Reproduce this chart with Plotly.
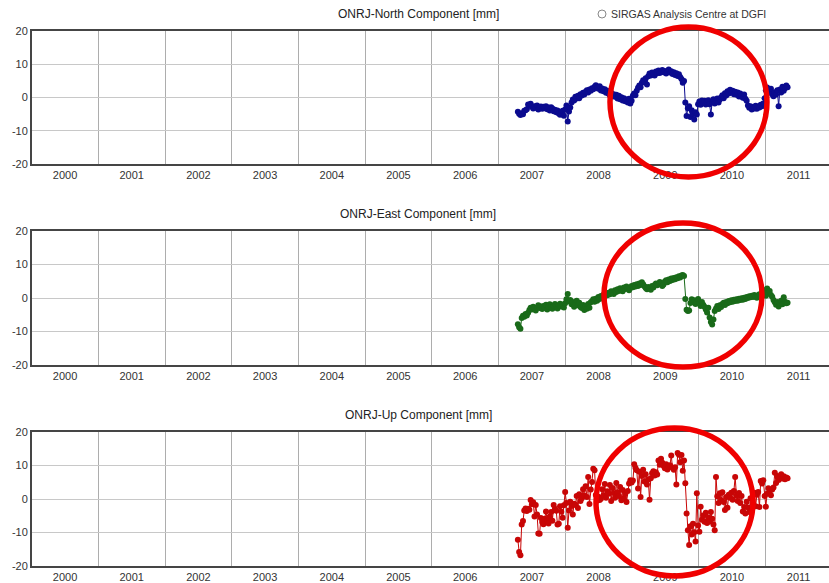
import numpy as np
import plotly.graph_objects as go

# Weekly solutions of station ONRJ (decimal years), residual positions in mm
t0 = 2006.79
n_weeks = 212
epochs = t0 + np.arange(n_weeks) * 7 / 365.25

north = [
    -4.3, -4.9, -5.3, -4.7, -5.0, -4.0, -3.8, -3.5, -2.1, -2.5,
    -1.9, -2.8, -3.3, -2.6, -3.1, -2.4, -3.6, -2.9, -2.7, -3.4,
    -2.8, -3.2, -2.6, -3.5, -3.0, -3.9, -2.9, -3.3, -4.1, -3.7,
    -4.4, -3.9, -4.8, -5.2, -4.5, -4.0, -5.5, -3.6, -2.4, -7.2,
    -4.2, -3.0, -1.5, -0.6, -0.9, 0.2, -0.3, 0.5, -0.2, 1.0,
    0.6, 1.4, 0.9, 1.7, 2.2, 1.5, 2.4, 2.0, 2.8, 2.5,
    3.2, 3.7, 3.0, 2.6, 3.4, 2.1, 2.7, 1.9, 2.5, 1.4,
    2.0, 1.1, 0.7, 1.4, 0.4, 1.0, 0.2, 0.8, -0.3, 0.5,
    -0.5, 0.1, -0.9, -0.2, -1.1, -0.6, -1.5, -0.4, -1.8, -1.0,
    0.6, 1.2, 0.7, 2.0, 2.9, 3.6, 3.1, 4.4, 5.2, 4.6,
    5.8, 3.9, 6.4, 7.2, 6.6, 7.5, 7.0, 6.6, 7.8, 7.3,
    8.1, 7.4, 7.9, 8.3, 7.6, 8.0, 7.2, 7.7, 8.4, 7.5,
    7.9, 7.1, 7.6, 6.8, 7.3, 6.5, 7.0, 6.2, 5.6, 4.4,
    5.0, -1.5, -5.6, -3.2, -2.6, -5.9, -3.8, -4.9, -6.6, -4.4,
    -5.1, -2.0, -1.2, -2.2, -0.9, -1.7, -1.0, -2.1, -1.4, -0.8,
    -2.0, -5.1, -1.3, -0.5, -1.8, -0.9, -0.3, -1.5, -0.6, 0.1,
    0.7, -0.2, 1.3, 0.6, 1.9, 1.2, 2.3, 1.6, 2.0, 1.0,
    1.7, 0.8, 1.5, 0.3, 1.2, 0.5, -0.1, 0.9, -0.4, -1.0,
    -2.4, -3.1, -2.6, -3.6, -2.9, -3.3, -2.5, -3.4, -2.7, -3.0,
    -2.2, -2.6, -1.8, -0.2, 2.2, 3.0, 2.4, 1.5, 2.6, 1.0,
    0.4, 1.6, 0.9, 2.2, -2.6, 2.4, 1.5, 3.2, 2.0, 2.8, 3.6, 3.1,
]

east = [
    -7.8, -8.7, -9.2, -6.0, -5.3, -5.6, -4.8, -5.2, -4.4, -3.6,
    -2.9, -3.4, -2.6, -3.1, -3.7, -2.8, -2.2, -3.0, -2.5, -3.3,
    -2.4, -2.9, -2.0, -3.4, -2.6, -1.9, -2.7, -3.2, -2.3, -1.8,
    -2.6, -3.1, -2.2, -1.7, -2.5, -2.0, -2.8, -1.6, -0.4, 1.2,
    -1.0, -0.6, -1.9, -1.2, -2.6, -1.5, -0.8, -2.2, -1.4, -2.7,
    -3.0, -2.1, -3.6, -2.4, -3.2, -1.8, -2.9, -1.3, -1.0, -0.4,
    -1.1, -0.2, -0.8, 0.3, -0.3, 0.6, 0.1, 1.0, 0.5, 1.3,
    0.8, 1.6, 1.1, 2.0, 1.5, 1.2, 2.3, 1.8, 2.6, 2.1,
    2.9, 2.4, 2.0, 3.1, 2.7, 3.4, 2.8, 2.3, 3.0, 3.6,
    3.2, 3.9, 3.4, 4.1, 3.6, 4.3, 3.9, 4.7, 4.1, 3.5,
    3.0, 2.6, 3.3, 2.9, 2.5, 3.6, 3.1, 3.9, 4.3, 3.8,
    4.1, 4.8, 4.4, 3.6, 4.0, 4.9, 5.3, 4.7, 5.5, 5.1,
    5.8, 5.4, 6.0, 5.6, 6.2, 5.9, 6.5, 6.1, 6.7, 6.9,
    6.6, -0.3, -3.5, -3.9, -3.7, -1.5, -0.4, -1.2, -0.7, -1.8,
    -1.1, -0.3, -1.6, -2.4, -1.2, -2.0, -2.6, -3.4, -4.3, -2.9,
    -5.8, -7.2, -7.9, -6.4, -3.9, -3.1, -2.4, -3.3, -2.2, -2.7,
    -1.8, -1.4, -2.1, -1.2, -1.6, -0.9, -1.3, -0.7, -1.1, -0.5,
    -0.9, -0.4, -0.8, -0.2, -0.6, -0.1, -0.5, 0.1, -0.3, 0.3,
    0.0, 0.5, 0.2, 0.7, 0.3, 0.9, 0.4, 0.1, 0.8, 1.1,
    0.6, 1.5, 2.4, 1.2, 0.7, 2.8, 1.6, 2.1, 0.9, 0.4,
    -0.6, -1.3, -2.0, -1.2, -2.5, -1.7, -0.8, -1.9, 0.2, -1.1, -1.6, -1.4,
]

up = [
    -12.2, -15.8, -16.8, -7.6, -6.6, -3.4, -2.8, -3.6, -2.9, -3.2,
    -0.3, -1.6, -1.0, -5.2, -1.8, -4.6, -10.3, -10.4, -5.7, -6.9,
    -7.5, -5.9, -3.7, -6.6, -7.3, -5.2, -3.9, -6.5, -1.8, -2.9,
    -3.5, -7.6, -7.4, -2.2, -3.8, -5.6, -1.9, 2.1, -1.2, -8.6,
    -3.4, -0.8, -2.1, -4.6, -1.4, -1.8, 0.9, -2.7, 1.4, -0.6,
    0.2, 2.9, 1.0, 3.8, 0.6, 6.6, -1.5, 2.8, 5.1, 9.0,
    8.6, 1.2, -0.5, 0.7, -0.3, 0.1, 2.9, 1.1, 4.5, 0.4,
    2.3, 1.6, 4.2, -0.6, 3.3, 1.8, 0.4, 4.8, 2.0, 0.9,
    3.6, -0.4, 2.7, 0.3, 1.5, -0.9, 2.4, 4.6, 5.6, 4.9,
    5.5, 10.4, 9.3, 8.6, 3.1, 8.1, 0.6, 6.9, 8.7, 5.2,
    7.4, 4.3, 5.8, -0.2, 6.2, 7.7, 8.3, 7.0, 8.0, 7.3,
    11.5, 10.2, 12.0, 10.8, 9.9, 9.2, 10.4, 8.8, 9.7, 10.1,
    13.0, 9.3, 8.7, 9.5, 4.3, 13.7, 13.2, 11.0, 13.1, 8.4,
    11.5, 4.7, -4.3, -9.3, -13.7, -8.1, -10.6, -7.4, -9.9, -12.7,
    1.7, -7.9, -9.8, -2.3, -6.2, -4.9, -6.8, -4.1, -7.2, -5.5,
    -6.7, -3.9, -5.9, -7.6, -9.3, 6.6, 0.8, -1.2, 1.7, -0.4,
    2.0, -0.9, -3.3, 0.6, -2.6, 1.3, 0.4, 1.9, -0.2, 2.4,
    6.6, 1.0, -0.6, 1.8, -1.2, 0.9, -3.7, -2.4, -4.3, -0.8,
    -2.5, -3.9, 0.2, -3.1, -1.6, 1.9, -2.2, 1.3, 2.1, -2.4,
    5.4, 4.6, 5.6, 0.9, -2.3, 1.6, 3.2, 2.4, 1.1, 2.8,
    3.4, 7.8, 4.8, 6.9, 5.7, 6.5, 7.4, 6.1, 6.8, 5.9, 6.4, 6.2,
]

years = list(range(2000, 2012))
y_ticks = [20, 10, 0, -10, -20]
y_labels = ["20", "10", "0", "-10", "-20"]

panels = [
    ("ONRJ-North Component [mm]", north, "#0b0b8f"),
    ("ONRJ-East Component [mm]", east, "#196a19"),
    ("ONRJ-Up Component [mm]", up, "#c80606"),
]

W, H = 829, 583
# plot frames in pixels: (top, bottom)
frames = [(31, 164), (231, 365), (432, 566)]
left_px = 32

FONT = "Liberation Sans, Arial, sans-serif"

fig = go.Figure()
layout = dict(
    width=W, height=H,
    margin=dict(l=0, r=0, t=0, b=0),
    paper_bgcolor="white", plot_bgcolor="white",
    showlegend=False,
    font=dict(family=FONT, size=11, color="#333333"),
)

annotations = []
shapes = []

for k, (title, vals, color) in enumerate(panels):
    idx = "" if k == 0 else str(k + 1)
    top, bot = frames[k]
    fig.add_trace(go.Scatter(
        x=epochs, y=vals, mode="lines+markers",
        xaxis="x" + idx, yaxis="y" + idx,
        line=dict(color=color, width=1),
        marker=dict(color=color, size=6, line=dict(width=0)),
    ))
    layout["xaxis" + idx] = dict(
        domain=[left_px / W, 1.0],
        anchor="y" + idx,
        range=[1999.505, 2011.455],
        tickmode="array", tickvals=years, ticktext=[str(y) for y in years],
        ticks="", showgrid=False, zeroline=False,
        showline=True, mirror=True, linecolor="#454545", linewidth=2,
        tickfont=dict(size=11, color="#333333"),
        minor=dict(tickvals=[y + 0.5 for y in years], showgrid=True,
                   gridcolor="#adadad", gridwidth=1, ticks=""),
        automargin=False,
    )
    layout["yaxis" + idx] = dict(
        domain=[1 - bot / H, 1 - top / H],
        anchor="x" + idx,
        range=[-20, 20],
        tickmode="array", tickvals=y_ticks, ticktext=y_labels,
        ticks="", showgrid=True, gridcolor="#c8c8c8", gridwidth=1,
        zeroline=False,
        showline=True, mirror=False, linecolor="#454545", linewidth=2,
        tickfont=dict(size=11, color="#333333"),
        automargin=False,
    )
    annotations.append(dict(
        text=title, x=418 / W, y=1 - (top - 17) / H,
        xref="paper", yref="paper", xanchor="center", yanchor="middle",
        showarrow=False, font=dict(family=FONT, size=12, color="#222222"),
    ))

# legend entry of the analysis centre
annotations.append(dict(
    text="SIRGAS Analysis Centre at DGFI", x=609 / W, y=1 - 14 / H,
    xref="paper", yref="paper", xanchor="left", yanchor="middle",
    showarrow=False, font=dict(family=FONT, size=10.5, color="#333333"),
))
shapes.append(dict(
    type="circle", xref="paper", yref="paper",
    x0=598 / W, x1=606 / W, y0=1 - 18 / H, y1=1 - 10 / H,
    line=dict(color="#888888", width=1), fillcolor="white",
))

# red highlight rings around the 2009 offset
rings = [(610, 767, 27, 177), (604, 762, 223, 367), (596, 753, 428, 576)]
for x0, x1, y0, y1 in rings:
    shapes.append(dict(
        type="circle", xref="paper", yref="paper",
        x0=x0 / W, x1=x1 / W, y0=1 - y1 / H, y1=1 - y0 / H,
        line=dict(color="#f00000", width=5.5), layer="above",
    ))

layout["annotations"] = annotations
layout["shapes"] = shapes
fig.update_layout(**layout)
fig.write_html("out.html")
